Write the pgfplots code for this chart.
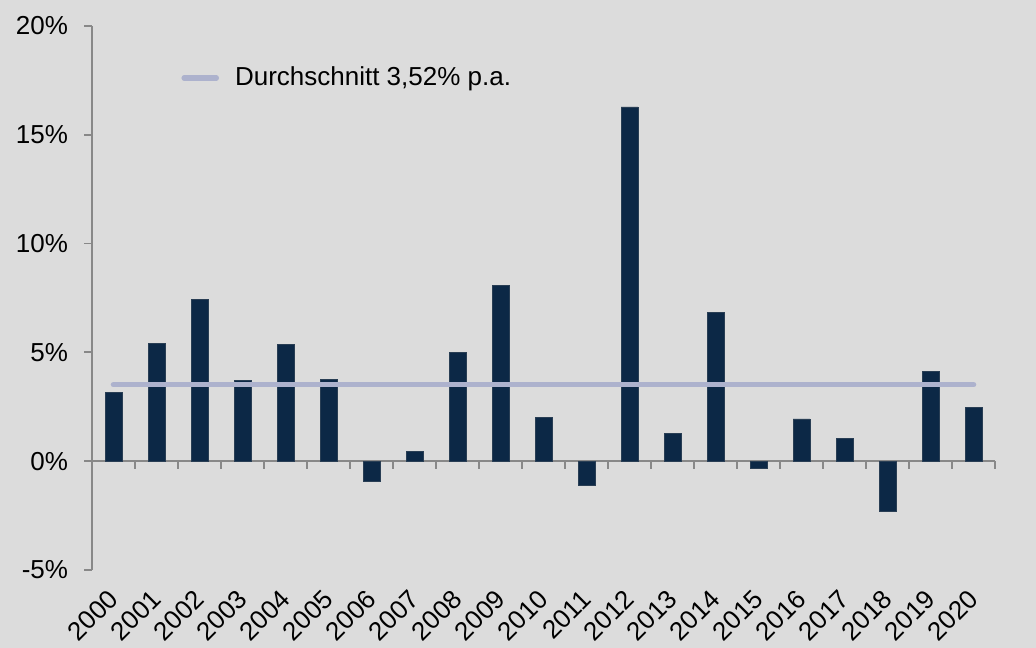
\documentclass[border=0pt]{standalone}
\usepackage{fontspec}
\setmainfont{Liberation Sans}
\usepackage{pgfplots}
\pgfplotsset{compat=1.18}
\usetikzlibrary{backgrounds}

\definecolor{bgc}{RGB}{220,220,220}
\definecolor{barc}{RGB}{12,40,70}
\definecolor{avgc}{RGB}{173,178,205}
\definecolor{axc}{RGB}{136,136,136}

\pgfplotstableread{
x  year  val
0  2000  3.15
1  2001  5.40
2  2002  7.45
3  2003  3.72
4  2004  5.35
5  2005  3.75
6  2006  -0.92
7  2007  0.43
8  2008  5.00
9  2009  8.07
10 2010  1.99
11 2011  -1.13
12 2012  16.28
13 2013  1.27
14 2014  6.83
15 2015  -0.35
16 2016  1.94
17 2017  1.05
18 2018  -2.32
19 2019  4.11
20 2020  2.45
}\returns

\pgfplotsset{
  common/.style={
    at={(46bp,39bp)}, anchor=south west,
    scale only axis, width=451.5bp, height=272bp,
    xmin=-0.5, xmax=20.5, ymin=-5, ymax=20,
    font=\fontsize{13bp}{15bp}\selectfont,
  },
}

\begin{document}
\begin{tikzpicture}
% zero line with boundary ticks
\begin{axis}[common,
  axis x line=middle, axis y line=none,
  axis line style={-, draw=axc, line width=0.9bp},
  xtick={-0.5,0.5,...,20.5}, xticklabels={},
  ytick=\empty,
  tick align=outside, major tick length=3.8bp,
  tick style={draw=axc, line width=0.9bp},
]
\end{axis}
\begin{axis}[common,
  axis y line=left, axis x line=bottom,
  x axis line style={draw=none},
  y axis line style={-, draw=axc, line width=0.9bp},
  xtick={0,...,20},
  xticklabels={2000,2001,2002,2003,2004,2005,2006,2007,2008,2009,2010,2011,2012,2013,2014,2015,2016,2017,2018,2019,2020},
  x tick style={draw=none},
  xticklabel style={xshift=0bp, yshift=-8.5bp, rotate=45, anchor=east, inner sep=0pt},
  ytick={-5,0,5,10,15,20},
  yticklabels={-5\%,0\%,5\%,10\%,15\%,20\%},
  y tick style={draw=axc, line width=0.9bp},
  tick align=outside, major tick length=3.8bp,
  yticklabel style={inner sep=0pt, xshift=-8bp},
  legend style={at={(0.0986,0.9044)}, anchor=west, draw=none, fill=none,
    inner sep=0pt, cells={anchor=west},
    /tikz/every odd column/.append style={column sep=6bp},
    font=\fontsize{13bp}{15bp}\selectfont},
  legend image code/.code={\draw[#1] (0bp,0bp) -- (16bp,0bp);},
]
\addplot[ybar, bar width=0.395, fill=barc, draw=barc!75!gray, line width=0.4bp, forget plot]
  table[x=x, y=val] \returns;
\addplot[avgc, line width=2.8bp, line cap=round] coordinates {(0,3.52) (20,3.52)};
\addlegendentry{Durchschnitt 3,52\% p.a.}
\end{axis}
\pgfresetboundingbox
\path[use as bounding box] (0,0) rectangle (518bp,324bp);
\begin{scope}[on background layer]
\fill[bgc] (0,0) rectangle (518bp,324bp);
\end{scope}
\end{tikzpicture}
\end{document}
